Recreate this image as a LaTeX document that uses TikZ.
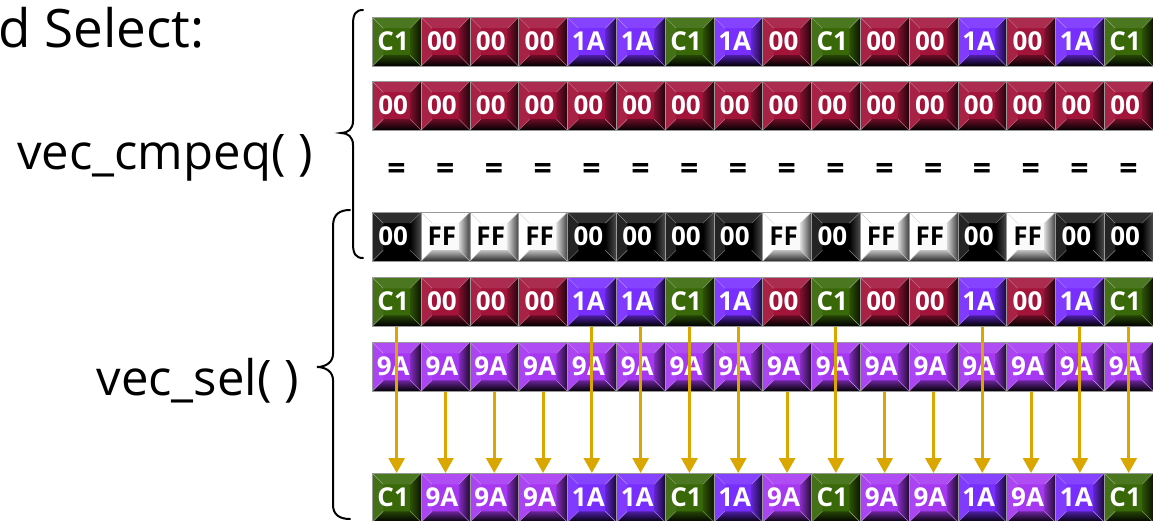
\documentclass[tikz,border=0pt]{standalone}
\usepackage{fontspec}
\setmainfont{Open Sans}
\newfontfamily\cellfont{Open Sans}
\usetikzlibrary{arrows.meta,calc}

\definecolor{cGreen}{RGB}{56,104,8}
\definecolor{cRed}{RGB}{162,20,58}
\definecolor{cBlue}{RGB}{120,46,255}
\definecolor{cViolet}{RGB}{166,56,242}
\definecolor{cGold}{RGB}{218,166,0}

% bevelled key face: #1 diagonal colour, #2 top, #3 left,
% #4/#5 right inner/outer, #6/#7 bottom inner/outer
\newcommand\bevelpaint[7]{%
  \def\bw{11pt}%
  \coordinate (bNW) at (path picture bounding box.north west);
  \coordinate (bNE) at (path picture bounding box.north east);
  \coordinate (bSW) at (path picture bounding box.south west);
  \coordinate (bSE) at (path picture bounding box.south east);
  \coordinate (iNW) at ([xshift=\bw,yshift=-\bw]bNW);
  \coordinate (iNE) at ([xshift=-\bw,yshift=-\bw]bNE);
  \coordinate (iSW) at ([xshift=\bw,yshift=\bw]bSW);
  \coordinate (iSE) at ([xshift=-\bw,yshift=\bw]bSE);
  \fill[#2] (bNW) -- (bNE) -- (iNE) -- (iNW) -- cycle;
  \fill[#3] (bNW) -- (iNW) -- (iSW) -- (bSW) -- cycle;
  \shade[left color=#4, right color=#5] (bNE) -- (bSE) -- (iSE) -- (iNE) -- cycle;
  \shade[top color=#6, bottom color=#7] (bSW) -- (bSE) -- (iSE) -- (iSW) -- cycle;
  \draw[#1, line width=0.4pt] (bNW) -- (iNW) (bNE) -- (iNE) (bSW) -- (iSW) (bSE) -- (iSE);
}

\tikzset{
  x=1pt, y=-1pt,
  cellbase/.style={minimum width=48.8pt, minimum height=49pt, inner sep=0pt,
    anchor=north west, draw=black!40, line width=0.5pt,
    font=\cellfont\bfseries\fontsize{26}{26}\selectfont, text=white},
  % colour variants of a key
  colkey/.style={cellbase, fill=#1, path picture={%
      \bevelpaint{#1!55!white}{#1!90!white}{#1!94!white}{#1!80!black}{#1!20!black}{#1!65!black}{black}}},
  cell C1/.style={colkey=cGreen},
  cell 00/.style={colkey=cRed},
  cell 1A/.style={colkey=cBlue},
  cell 9A/.style={colkey=cViolet},
  mask 00/.style={cellbase, fill=black, path picture={%
      \bevelpaint{black!45!white}{black!82!white}{black!86!white}{black}{black!70!white}{black}{black}}},
  mask FF/.style={cellbase, fill=black!2, text=black, path picture={%
      \bevelpaint{black!20}{white}{white}{black!15}{black!75}{black!25}{black!85}}},
  eqsign/.style={font=\cellfont\bfseries\fontsize{32}{32}\selectfont, inner sep=0pt},
  label/.style={font=\fontsize{49}{49}\selectfont, inner sep=0pt, anchor=base east},
  selarrow/.style={draw=cGold, line width=3pt, -{Triangle[width=16pt,length=15pt]}},
  brace/.style={draw=black, line width=2pt, line cap=round}
}

\newcommand\keytext[1]{\kern-7pt\raisebox{1.5pt}{#1}}

\begin{document}
\begin{tikzpicture}
\useasboundingbox (0,0) rectangle (1153,521);

% titles
\node[font=\fontsize{53}{53}\selectfont, inner sep=0pt, anchor=base west] (title) at (-2,48) {d Select:};
\node[label] (cmpeq) at (313,170) {vec\_cmpeq( )};
\node[label] (sel) at (299,395) {vec\_sel( )};

% vector rows
\foreach \v [count=\i] in {C1,00,00,00,1A,1A,C1,1A,00,C1,00,00,1A,00,1A,C1}{
  \node[cell \v] (a-\i) at ({372+48.8*(\i-1)},17) {\keytext{\v}};
  \node[cell \v] (e-\i) at ({372+48.8*(\i-1)},277) {\keytext{\v}};
}
\foreach \i in {1,...,16}{
  \node[cell 00] (b-\i) at ({372+48.8*(\i-1)},81) {\keytext{00}};
  \node[eqsign] (q-\i) at ({372+48.8*(\i-1)+24.4},172) {=};
  \node[cell 9A] (f-\i) at ({372+48.8*(\i-1)},342) {\keytext{9A}};
}
\foreach \v [count=\i] in {00,FF,FF,FF,00,00,00,00,FF,00,FF,FF,00,FF,00,00}{
  \node[mask \v] (m-\i) at ({372+48.8*(\i-1)},212) {\keytext{\v}};
}
\foreach \v [count=\i] in {C1,9A,9A,9A,1A,1A,C1,1A,9A,C1,9A,9A,1A,9A,1A,C1}{
  \node[cell \v] (r-\i) at ({372+48.8*(\i-1)},473) {\keytext{\v}};
}

% selection arrows: mask 00 takes the first input, FF the second
\foreach \i in {1,5,6,7,8,10,13,15,16}{
  \draw[selarrow] (e-\i.south) -- (r-\i.north);
}
\foreach \i in {2,3,4,9,11,12,14}{
  \draw[selarrow] (f-\i.south) -- (r-\i.north);
}

% braces
\draw[brace] (363,10) .. controls (356,10) and (353,14) .. (353,24) -- (353,121)
  .. controls (353,129) and (348,133) .. (341,133)
  .. controls (348,133) and (353,137) .. (353,145) -- (353,244)
  .. controls (353,254) and (356,258) .. (363,258);
\draw[brace] (350,210) .. controls (340,210) and (333,214) .. (333,226) -- (333,354)
  .. controls (333,362) and (326,367) .. (317,367)
  .. controls (326,367) and (333,372) .. (333,380) -- (333,505)
  .. controls (333,515) and (340,519) .. (350,519);
\end{tikzpicture}
\end{document}
